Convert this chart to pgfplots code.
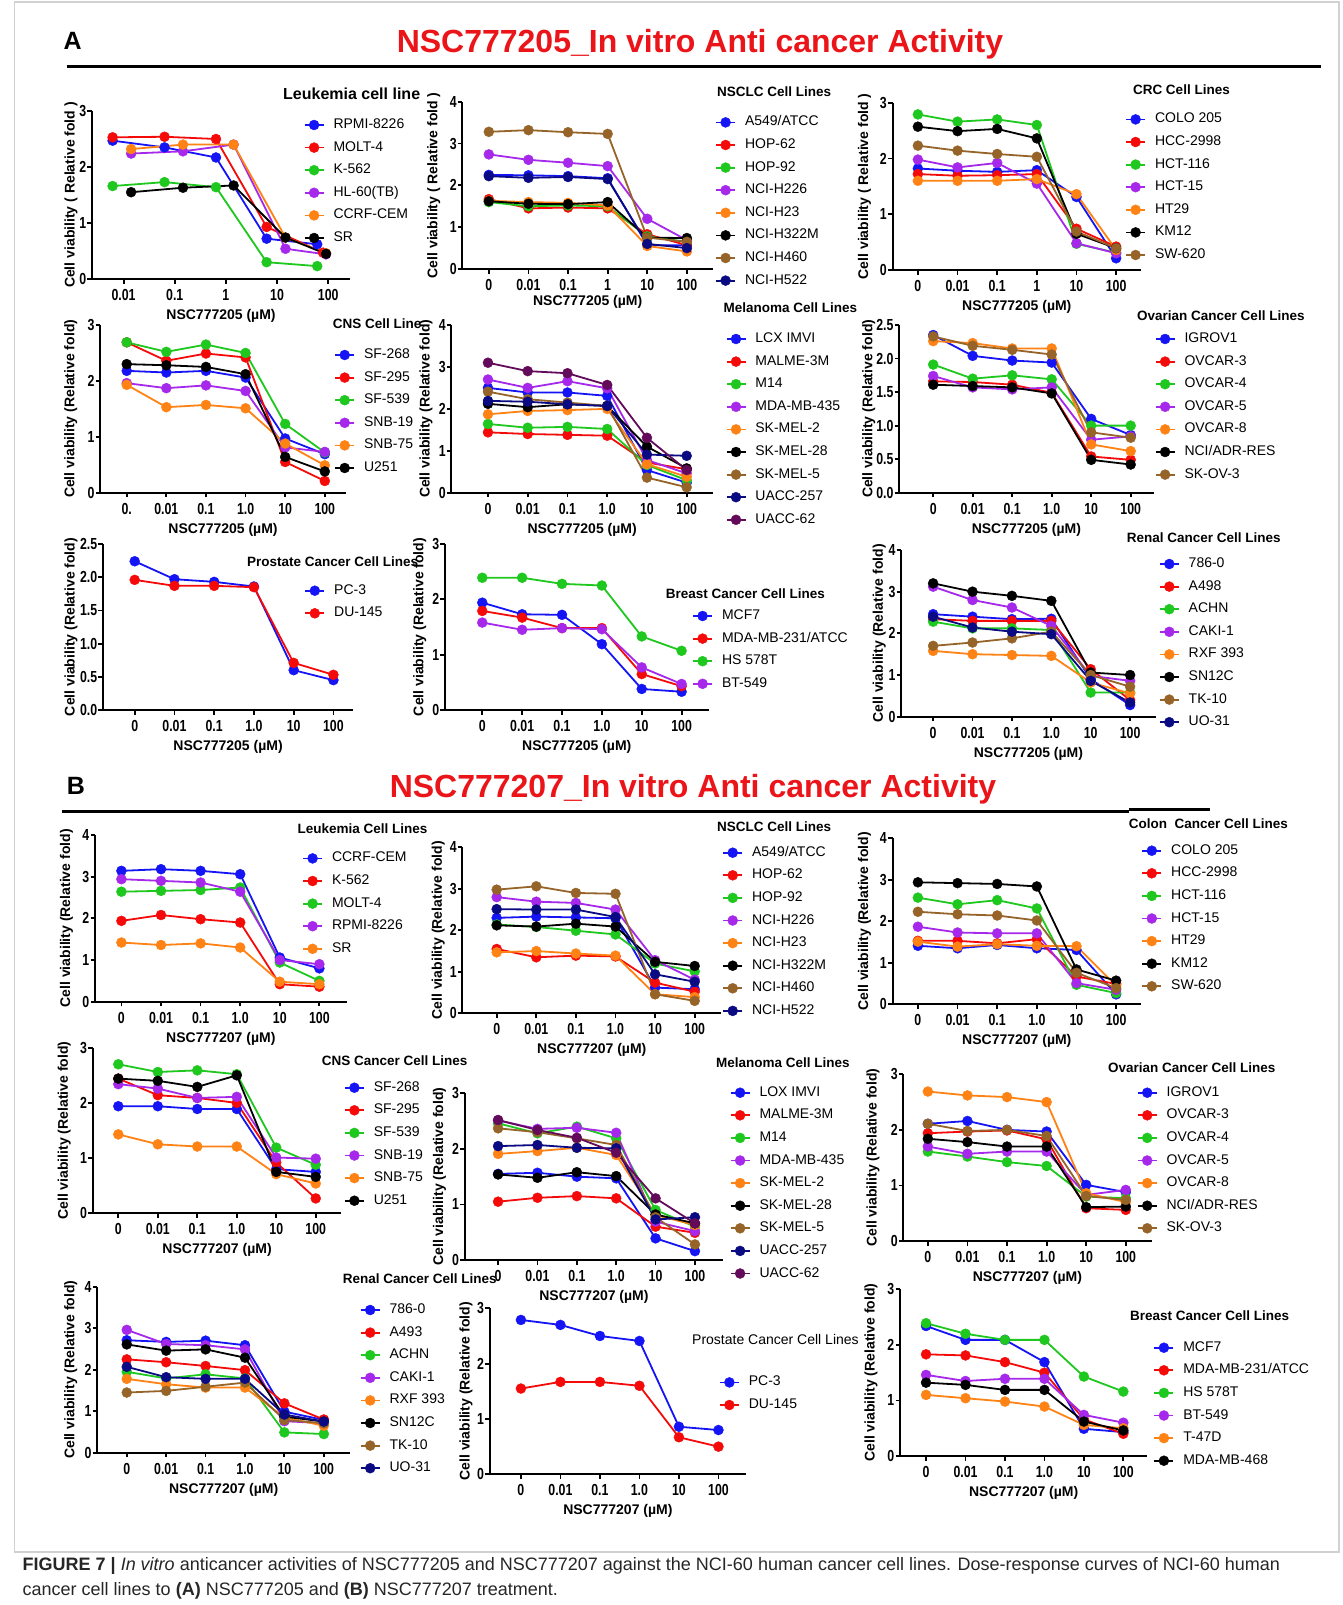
\documentclass[border=0pt]{standalone}
\usepackage{fontspec}
\setmainfont{Liberation Sans}
\newfontfamily\tickfamily[FakeStretch=0.77]{Liberation Sans}
\usepackage{pgfplots}
\pgfplotsset{compat=1.18}
\definecolor{pblue}{RGB}{20,20,245}
\definecolor{pred}{RGB}{245,10,10}
\definecolor{pgreen}{RGB}{30,200,30}
\definecolor{ppurple}{RGB}{165,40,235}
\definecolor{porange}{RGB}{255,130,20}
\definecolor{pblack}{RGB}{0,0,0}
\definecolor{pbrown}{RGB}{150,100,40}
\definecolor{pnavy}{RGB}{10,10,130}
\definecolor{pdpurple}{RGB}{100,10,90}
\definecolor{titlered}{RGB}{235,20,25}
\newcommand{\tfont}{\tickfamily\bfseries\fontsize{16}{17}\selectfont}
\newcommand{\lfont}{\bfseries\fontsize{14}{16}\selectfont}
\newcommand{\legfont}{\fontsize{14}{16}\selectfont}
\newcommand{\ltitfont}{\bfseries\fontsize{13.5}{16}\selectfont}
\pgfplotsset{
 prism/.style={
   scale only axis, clip=false, anchor=south west,
   axis x line*=bottom, axis y line*=left,
   axis line style={line width=2pt, black},
   tick style={line width=1.8pt, black},
   major tick length=4.5pt, tick align=outside,
   ymin=0, xtick={0,1,2,3,4,5},
   xticklabels={0,0.01,0.1,1.0,10,100},
   tick label style={font=\tfont, inner sep=1pt},
   xticklabel style={yshift=-4.5pt},
   /pgf/number format/assume math mode=true,
   xlabel style={at={(axis description cs:0.5,0)}, anchor=center, yshift=-37pt, font=\lfont},
   ylabel style={anchor=center, font=\lfont},
   title style={at={(axis description cs:0,0)}, anchor=west, font=\ltitfont, inner sep=0pt},
   legend style={at={(axis description cs:0,0)}, anchor=north west, draw=none, fill=none, inner sep=0pt, font=\legfont, row sep=7.6pt, column sep=9pt, nodes={inner sep=0pt, text height=11pt, text depth=4pt}},
   legend cell align=left,
   legend image code/.code={\draw[mark repeat=2,mark phase=2,##1] plot coordinates {(0pt,0pt) (9.5pt,0pt) (19pt,0pt)};},
 },
 s/.style={color=#1, mark=*, line width=1.8pt, mark size=5pt, mark options={solid, fill=#1, line width=0.4pt}},
}
\begin{document}
\begin{tikzpicture}
\useasboundingbox (0pt,0pt) rectangle (1342pt,-1605pt);
\fill[white] (0pt,0pt) rectangle (1342pt,-1605pt);
\draw[black!18, line width=1.2pt] (14.3pt,-2pt) rectangle (1339pt,-1552pt);
% headers
\node[font=\bfseries\fontsize{25}{28}\selectfont] at (72.7pt,-41pt) {A};
\node[font=\bfseries\fontsize{32}{36}\selectfont, text=titlered] at (700pt,-44pt) {NSC777205\_In vitro Anti cancer Activity};
\draw[line width=3pt] (66.5pt,-66.5pt) -- (1320.6pt,-66.5pt);
\node[font=\bfseries\fontsize{25}{28}\selectfont] at (75.8pt,-786pt) {B};
\node[font=\bfseries\fontsize{32}{36}\selectfont, text=titlered] at (693pt,-789pt) {NSC777207\_In vitro Anti cancer Activity};
\draw[line width=3pt] (62pt,-811pt) -- (1128.7pt,-811pt);
\draw[line width=3pt] (1128.7pt,-809.5pt) -- (1209.8pt,-809.5pt);
% caption
\node[anchor=west, inner sep=0pt, font=\fontsize{18}{21}\selectfont, text=black!85] at (22.5pt,-1566pt) {\textbf{FIGURE 7 |} \textit{In vitro} anticancer activities of NSC777205 and NSC777207 against the NCI-60 human cancer cell lines. Dose-response curves of NCI-60 human};
\node[anchor=west, inner sep=0pt, font=\fontsize{18}{21}\selectfont, text=black!85] at (22.5pt,-1591pt) {cancer cell lines to \textbf{(A)} NSC777205 and \textbf{(B)} NSC777207 treatment.};

% ===== A1 Leukemia =====
\begin{axis}[prism, at={(91.9pt,-279pt)}, width=258.3pt, height=168pt,
 xmin=-2.62, xmax=2.43, ymax=3, ytick={0,1,2,3}, xtick={-2,-1,0,1,2}, xticklabels={0.01,0.1,1,10,100},
 xlabel={NSC777205 (µM)}, ylabel={Cell viability ( Relative fold )},
 ylabel style={at={(axis description cs:-0.0813,0.5)}},
 title={Leukemia cell line}, title style={xshift=191.1pt, yshift=179pt, font=\bfseries\fontsize{16}{18}\selectfont},
 legend style={xshift=211.6pt, yshift=161.7pt}]
\addplot[s=pblue] coordinates {(-2.215,2.47)(-1.200,2.35)(-0.194,2.17)(0.796,0.72)(1.785,0.62)}; \addlegendentry{RPMI-8226}
\addplot[s=pred] coordinates {(-2.215,2.53)(-1.200,2.54)(-0.194,2.50)(0.796,0.93)(1.900,0.47)}; \addlegendentry{MOLT-4}
\addplot[s=pgreen] coordinates {(-2.215,1.66)(-1.200,1.73)(-0.194,1.64)(0.796,0.30)(1.785,0.23)}; \addlegendentry{K-562}
\addplot[s=ppurple] coordinates {(-1.853,2.24)(-0.839,2.28)(0.150,2.40)(1.165,0.54)(1.957,0.44)}; \addlegendentry{HL-60(TB)}
\addplot[s=porange] coordinates {(-1.853,2.32)(-0.839,2.40)(0.150,2.40)(1.165,0.74)(1.957,0.46)}; \addlegendentry{CCRF-CEM}
\addplot[s=pblack] coordinates {(-1.853,1.55)(-0.839,1.63)(0.150,1.67)(1.165,0.74)(1.957,0.45)}; \addlegendentry{SR}
\end{axis}

% ===== A2 NSCLC =====
\begin{axis}[prism, at={(462.4pt,-269pt)}, width=250.6pt, height=167.3pt,
 xmin=-0.667, xmax=5.66, ymax=4, ytick={0,1,2,3,4}, xticklabels={0,0.01,0.1,1,10,100},
 xlabel={NSC777205 (µM)}, xlabel style={yshift=4pt}, ylabel={Cell viability ( Relative fold )},
 ylabel style={at={(axis description cs:-0.1141,0.5)}},
 title={NSCLC Cell Lines}, title style={xshift=254.6pt, yshift=171.7pt},
 legend style={xshift=252.6pt, yshift=154.3pt}]
\addplot[s=pblue] coordinates {(0,2.25)(1,2.24)(2,2.22)(3,2.17)(4,0.57)(5,0.57)}; \addlegendentry{A549/ATCC}
\addplot[s=pred] coordinates {(0,1.67)(1,1.45)(2,1.47)(3,1.45)(4,0.83)(5,0.57)}; \addlegendentry{HOP-62}
\addplot[s=pgreen] coordinates {(0,1.60)(1,1.50)(2,1.52)(3,1.50)(4,0.78)(5,0.65)}; \addlegendentry{HOP-92}
\addplot[s=ppurple] coordinates {(0,2.74)(1,2.61)(2,2.54)(3,2.46)(4,1.20)(5,0.69)}; \addlegendentry{NCI-H226}
\addplot[s=porange] coordinates {(0,1.63)(1,1.60)(2,1.58)(3,1.52)(4,0.55)(5,0.42)}; \addlegendentry{NCI-H23}
\addplot[s=pblack] coordinates {(0,1.62)(1,1.56)(2,1.55)(3,1.60)(4,0.75)(5,0.74)}; \addlegendentry{NCI-H322M}
\addplot[s=pbrown] coordinates {(0,3.28)(1,3.32)(2,3.27)(3,3.23)(4,0.75)(5,0.65)}; \addlegendentry{NCI-H460}
\addplot[s=pnavy] coordinates {(0,2.22)(1,2.18)(2,2.20)(3,2.15)(4,0.60)(5,0.50)}; \addlegendentry{NCI-H522}
\end{axis}

% ===== A3 CRC =====
\begin{axis}[prism, at={(892.5pt,-270pt)}, width=248.6pt, height=167.3pt,
 xmin=-0.64, xmax=5.63, ymax=3, ytick={0,1,2,3}, xticklabels={0,0.01,0.1,1,10,100},
 xlabel={NSC777205 (µM)}, ylabel={Cell viability ( Relative fold )},
 ylabel style={at={(axis description cs:-0.1122,0.5)}},
 title={CRC Cell Lines}, title style={xshift=240.3pt, yshift=174pt},
 legend style={xshift=232.5pt, yshift=158.3pt}]
\addplot[s=pblue] coordinates {(0,1.82)(1,1.78)(2,1.76)(3,1.79)(4,1.31)(5,0.21)}; \addlegendentry{COLO 205}
\addplot[s=pred] coordinates {(0,1.72)(1,1.69)(2,1.70)(3,1.72)(4,0.74)(5,0.42)}; \addlegendentry{HCC-2998}
\addplot[s=pgreen] coordinates {(0,2.79)(1,2.66)(2,2.70)(3,2.60)(4,0.47)(5,0.31)}; \addlegendentry{HCT-116}
\addplot[s=ppurple] coordinates {(0,1.98)(1,1.84)(2,1.92)(3,1.55)(4,0.48)(5,0.30)}; \addlegendentry{HCT-15}
\addplot[s=porange] coordinates {(0,1.60)(1,1.60)(2,1.60)(3,1.63)(4,1.36)(5,0.36)}; \addlegendentry{HT29}
\addplot[s=pblack] coordinates {(0,2.57)(1,2.49)(2,2.53)(3,2.36)(4,0.65)(5,0.39)}; \addlegendentry{KM12}
\addplot[s=pbrown] coordinates {(0,2.23)(1,2.14)(2,2.08)(3,2.03)(4,0.69)(5,0.39)}; \addlegendentry{SW-620}
\end{axis}

% ===== A4 CNS =====
\begin{axis}[prism, at={(100.3pt,-492.7pt)}, width=245.5pt, height=167.7pt,
 xmin=-0.667, xmax=5.53, ymax=3, ytick={0,1,2,3}, xticklabels={0.,0.01,0.1,1.0,10,100},
 xlabel={NSC777205 (µM)}, ylabel={Cell viability (Relative fold)},
 ylabel style={at={(axis description cs:-0.1202,0.5)}},
 title={CNS Cell Line}, title style={xshift=232.3pt, yshift=162.7pt},
 legend style={xshift=233.8pt, yshift=145.4pt}]
\addplot[s=pblue] coordinates {(0,2.18)(1,2.15)(2,2.18)(3,2.06)(4,0.97)(5,0.69)}; \addlegendentry{SF-268}
\addplot[s=pred] coordinates {(0,2.69)(1,2.36)(2,2.49)(3,2.42)(4,0.55)(5,0.21)}; \addlegendentry{SF-295}
\addplot[s=pgreen] coordinates {(0,2.69)(1,2.52)(2,2.65)(3,2.50)(4,1.23)(5,0.72)}; \addlegendentry{SF-539}
\addplot[s=ppurple] coordinates {(0,1.96)(1,1.87)(2,1.92)(3,1.82)(4,0.81)(5,0.73)}; \addlegendentry{SNB-19}
\addplot[s=porange] coordinates {(0,1.93)(1,1.53)(2,1.57)(3,1.51)(4,0.88)(5,0.49)}; \addlegendentry{SNB-75}
\addplot[s=pblack] coordinates {(0,2.30)(1,2.28)(2,2.25)(3,2.12)(4,0.64)(5,0.38)}; \addlegendentry{U251}
\end{axis}

% ===== A5 Melanoma =====
\begin{axis}[prism, at={(451.4pt,-492.7pt)}, width=261.5pt, height=167.7pt,
 xmin=-0.92, xmax=5.66, ymax=4, ytick={0,1,2,3,4},
 xlabel={NSC777205 (µM)}, ylabel={Cell viability (Relative fold)},
 ylabel style={at={(axis description cs:-0.097,0.5)}},
 title={Melanoma Cell Lines}, title style={xshift=271.9pt, yshift=178.7pt},
 legend style={xshift=274pt, yshift=161.4pt}]
\addplot[s=pblue] coordinates {(0,2.50)(1,2.39)(2,2.39)(3,2.31)(4,0.54)(5,0.24)}; \addlegendentry{LCX IMVI}
\addplot[s=pred] coordinates {(0,1.44)(1,1.40)(2,1.38)(3,1.36)(4,0.72)(5,0.56)}; \addlegendentry{MALME-3M}
\addplot[s=pgreen] coordinates {(0,1.64)(1,1.55)(2,1.57)(3,1.52)(4,0.66)(5,0.30)}; \addlegendentry{M14}
\addplot[s=ppurple] coordinates {(0,2.70)(1,2.50)(2,2.66)(3,2.49)(4,0.78)(5,0.46)}; \addlegendentry{MDA-MB-435}
\addplot[s=porange] coordinates {(0,1.87)(1,1.95)(2,1.97)(3,2.00)(4,0.68)(5,0.38)}; \addlegendentry{SK-MEL-2}
\addplot[s=pblack] coordinates {(0,2.12)(1,2.04)(2,2.11)(3,2.07)(4,1.10)(5,0.58)}; \addlegendentry{SK-MEL-28}
\addplot[s=pbrown] coordinates {(0,2.41)(1,2.23)(2,2.15)(3,2.07)(4,0.36)(5,0.13)}; \addlegendentry{SK-MEL-5}
\addplot[s=pnavy] coordinates {(0,2.19)(1,2.17)(2,2.11)(3,2.07)(4,0.91)(5,0.88)}; \addlegendentry{UACC-257}
\addplot[s=pdpurple] coordinates {(0,3.10)(1,2.90)(2,2.85)(3,2.57)(4,1.31)(5,0.54)}; \addlegendentry{UACC-62}
\end{axis}

% ===== A6 Ovarian =====
\begin{axis}[prism, at={(899.1pt,-492.7pt)}, width=254.5pt, height=167.7pt,
 xmin=-0.863, xmax=5.58, ymax=2.5, ytick={0,0.5,1,1.5,2,2.5}, yticklabels={0.0,0.5,1.0,1.5,2.0,2.5},
 xlabel={NSC777205 (µM)}, ylabel={Cell viability (Relative fold)},
 ylabel style={at={(axis description cs:-0.119,0.5)}},
 title={Ovarian Cancer Cell Lines}, title style={xshift=237.9pt, yshift=171pt},
 legend style={xshift=255.4pt, yshift=161.4pt}]
\addplot[s=pblue] coordinates {(0,2.35)(1,2.04)(2,1.97)(3,1.94)(4,1.10)(5,0.86)}; \addlegendentry{IGROV1}
\addplot[s=pred] coordinates {(0,1.66)(1,1.65)(2,1.61)(3,1.49)(4,0.54)(5,0.49)}; \addlegendentry{OVCAR-3}
\addplot[s=pgreen] coordinates {(0,1.91)(1,1.70)(2,1.75)(3,1.69)(4,1.00)(5,1.00)}; \addlegendentry{OVCAR-4}
\addplot[s=ppurple] coordinates {(0,1.74)(1,1.57)(2,1.54)(3,1.57)(4,0.79)(5,0.84)}; \addlegendentry{OVCAR-5}
\addplot[s=porange] coordinates {(0,2.26)(1,2.23)(2,2.15)(3,2.15)(4,0.72)(5,0.62)}; \addlegendentry{OVCAR-8}
\addplot[s=pblack] coordinates {(0,1.61)(1,1.59)(2,1.57)(3,1.48)(4,0.49)(5,0.42)}; \addlegendentry{NCI/ADR-RES}
\addplot[s=pbrown] coordinates {(0,2.33)(1,2.19)(2,2.13)(3,2.06)(4,0.90)(5,0.82)}; \addlegendentry{SK-OV-3}
\end{axis}

% ===== A7 Prostate =====
\begin{axis}[prism, at={(102.9pt,-710pt)}, width=250.4pt, height=166pt,
 xmin=-0.8, xmax=5.5, ymax=2.5, ytick={0,0.5,1,1.5,2,2.5}, yticklabels={0.0,0.5,1.0,1.5,2.0,2.5},
 xlabel={NSC777205 (µM)}, ylabel={Cell viability (Relative fold)},
 ylabel style={at={(axis description cs:-0.1278,0.5)}},
 title={Prostate Cancer Cell Lines}, title style={xshift=143.9pt, yshift=142.7pt},
 legend style={xshift=201.3pt, yshift=127pt}]
\addplot[s=pblue] coordinates {(0,2.24)(1,1.97)(2,1.93)(3,1.86)(4,0.60)(5,0.45)}; \addlegendentry{PC-3}
\addplot[s=pred] coordinates {(0,1.96)(1,1.87)(2,1.87)(3,1.85)(4,0.71)(5,0.53)}; \addlegendentry{DU-145}
\end{axis}

% ===== A8 Breast =====
\begin{axis}[prism, at={(444.8pt,-710pt)}, width=263.9pt, height=166pt,
 xmin=-0.94, xmax=5.68, ymax=3, ytick={0,1,2,3},
 xlabel={NSC777205 (µM)}, ylabel={Cell viability (Relative fold)},
 ylabel style={at={(axis description cs:-0.095,0.5)}},
 title={Breast Cancer Cell Lines}, title style={xshift=220.9pt, yshift=110pt},
 legend style={xshift=247.2pt, yshift=101.7pt}]
\addplot[s=pblue] coordinates {(0,1.94)(1,1.73)(2,1.72)(3,1.19)(4,0.38)(5,0.33)}; \addlegendentry{MCF7}
\addplot[s=pred] coordinates {(0,1.79)(1,1.67)(2,1.48)(3,1.48)(4,0.65)(5,0.43)}; \addlegendentry{MDA-MB-231/ATCC}
\addplot[s=pgreen] coordinates {(0,2.39)(1,2.39)(2,2.28)(3,2.25)(4,1.33)(5,1.07)}; \addlegendentry{HS 578T}
\addplot[s=ppurple] coordinates {(0,1.58)(1,1.45)(2,1.48)(3,1.46)(4,0.77)(5,0.47)}; \addlegendentry{BT-549}
\end{axis}

% ===== A9 Renal =====
\begin{axis}[prism, at={(901.2pt,-716.7pt)}, width=254.5pt, height=166.7pt,
 xmin=-0.81, xmax=5.65, ymax=4, ytick={0,1,2,3,4},
 xlabel={NSC777205 (µM)}, ylabel={Cell viability (Relative fold)},
 ylabel style={at={(axis description cs:-0.0864,0.5)}},
 title={Renal Cancer Cell Lines}, title style={xshift=225.4pt, yshift=172.7pt},
 legend style={xshift=257.5pt, yshift=160.4pt}]
\addplot[s=pblue] coordinates {(0,2.46)(1,2.40)(2,2.34)(3,2.35)(4,0.90)(5,0.28)}; \addlegendentry{786-0}
\addplot[s=pred] coordinates {(0,2.34)(1,2.30)(2,2.30)(3,2.30)(4,1.14)(5,0.40)}; \addlegendentry{A498}
\addplot[s=pgreen] coordinates {(0,2.28)(1,2.12)(2,2.12)(3,2.08)(4,0.58)(5,0.58)}; \addlegendentry{ACHN}
\addplot[s=ppurple] coordinates {(0,3.12)(1,2.80)(2,2.62)(3,2.18)(4,0.98)(5,0.86)}; \addlegendentry{CAKI-1}
\addplot[s=porange] coordinates {(0,1.58)(1,1.50)(2,1.48)(3,1.46)(4,0.82)(5,0.56)}; \addlegendentry{RXF 393}
\addplot[s=pblack] coordinates {(0,3.20)(1,3.00)(2,2.90)(3,2.78)(4,1.06)(5,1.00)}; \addlegendentry{SN12C}
\addplot[s=pbrown] coordinates {(0,1.70)(1,1.78)(2,1.88)(3,2.04)(4,1.00)(5,0.72)}; \addlegendentry{TK-10}
\addplot[s=pnavy] coordinates {(0,2.40)(1,2.14)(2,2.04)(3,1.98)(4,0.86)(5,0.34)}; \addlegendentry{UO-31}
\end{axis}

% ===== B1 Leukemia =====
\begin{axis}[prism, at={(95pt,-1001.7pt)}, width=251.7pt, height=166.7pt,
 xmin=-0.667, xmax=5.69, ymax=4, ytick={0,1,2,3,4},
 xlabel={NSC777207 (µM)}, ylabel={Cell viability (Relative fold)},
 ylabel style={at={(axis description cs:-0.1136,0.5)}},
 title={Leukemia Cell Lines}, title style={xshift=202.4pt, yshift=167.4pt},
 legend style={xshift=207pt, yshift=151pt}]
\addplot[s=pblue] coordinates {(0,3.14)(1,3.18)(2,3.14)(3,3.06)(4,1.06)(5,0.80)}; \addlegendentry{CCRF-CEM}
\addplot[s=pred] coordinates {(0,1.94)(1,2.08)(2,1.98)(3,1.90)(4,0.42)(5,0.36)}; \addlegendentry{K-562}
\addplot[s=pgreen] coordinates {(0,2.64)(1,2.66)(2,2.68)(3,2.74)(4,0.94)(5,0.50)}; \addlegendentry{MOLT-4}
\addplot[s=ppurple] coordinates {(0,2.94)(1,2.90)(2,2.86)(3,2.64)(4,1.00)(5,0.90)}; \addlegendentry{RPMI-8226}
\addplot[s=porange] coordinates {(0,1.42)(1,1.36)(2,1.40)(3,1.30)(4,0.48)(5,0.42)}; \addlegendentry{SR}
\end{axis}

% ===== B2 NSCLC =====
\begin{axis}[prism, at={(462.4pt,-1013.3pt)}, width=258.8pt, height=166pt,
 xmin=-0.866, xmax=5.67, ymax=4, ytick={0,1,2,3,4},
 xlabel={NSC777207 (µM)}, ylabel={Cell viability (Relative fold)},
 ylabel style={at={(axis description cs:-0.0935,0.5)}},
 title={NSCLC Cell Lines}, title style={xshift=254.6pt, yshift=180.6pt},
 legend style={xshift=259.7pt, yshift=168.3pt}]
\addplot[s=pblue] coordinates {(0,2.30)(1,2.33)(2,2.31)(3,2.29)(4,0.62)(5,0.58)}; \addlegendentry{A549/ATCC}
\addplot[s=pred] coordinates {(0,1.55)(1,1.35)(2,1.39)(3,1.37)(4,0.74)(5,0.52)}; \addlegendentry{HOP-62}
\addplot[s=pgreen] coordinates {(0,2.14)(1,2.08)(2,1.99)(3,1.90)(4,1.20)(5,1.01)}; \addlegendentry{HOP-92}
\addplot[s=ppurple] coordinates {(0,2.80)(1,2.69)(2,2.66)(3,2.50)(4,1.28)(5,0.81)}; \addlegendentry{NCI-H226}
\addplot[s=porange] coordinates {(0,1.47)(1,1.50)(2,1.44)(3,1.39)(4,0.46)(5,0.39)}; \addlegendentry{NCI-H23}
\addplot[s=pblack] coordinates {(0,2.12)(1,2.09)(2,2.16)(3,2.09)(4,1.24)(5,1.14)}; \addlegendentry{NCI-H322M}
\addplot[s=pbrown] coordinates {(0,2.98)(1,3.06)(2,2.90)(3,2.88)(4,0.46)(5,0.30)}; \addlegendentry{NCI-H460}
\addplot[s=pnavy] coordinates {(0,2.51)(1,2.50)(2,2.50)(3,2.32)(4,0.94)(5,0.76)}; \addlegendentry{NCI-H522}
\end{axis}

% ===== B3 Colon =====
\begin{axis}[prism, at={(892.5pt,-1004.3pt)}, width=248.6pt, height=166pt,
 xmin=-0.64, xmax=5.63, ymax=4, ytick={0,1,2,3,4},
 xlabel={NSC777207 (µM)}, ylabel={Cell viability (Relative fold)},
 ylabel style={at={(axis description cs:-0.1122,0.5)}},
 title={Colon\ \ Cancer Cell Lines}, title style={xshift=236.2pt, yshift=175pt},
 legend style={xshift=248.7pt, yshift=161.3pt}]
\addplot[s=pblue] coordinates {(0,1.41)(1,1.35)(2,1.43)(3,1.35)(4,1.31)(5,0.24)}; \addlegendentry{COLO 205}
\addplot[s=pred] coordinates {(0,1.53)(1,1.53)(2,1.47)(3,1.57)(4,0.67)(5,0.49)}; \addlegendentry{HCC-2998}
\addplot[s=pgreen] coordinates {(0,2.57)(1,2.41)(2,2.51)(3,2.31)(4,0.47)(5,0.27)}; \addlegendentry{HCT-116}
\addplot[s=ppurple] coordinates {(0,1.87)(1,1.73)(2,1.71)(3,1.71)(4,0.51)(5,0.35)}; \addlegendentry{HCT-15}
\addplot[s=porange] coordinates {(0,1.51)(1,1.39)(2,1.45)(3,1.41)(4,1.40)(5,0.45)}; \addlegendentry{HT29}
\addplot[s=pblack] coordinates {(0,2.94)(1,2.92)(2,2.90)(3,2.84)(4,0.84)(5,0.57)}; \addlegendentry{KM12}
\addplot[s=pbrown] coordinates {(0,2.23)(1,2.17)(2,2.14)(3,2.02)(4,0.76)(5,0.39)}; \addlegendentry{SW-620}
\end{axis}

% ===== B4 CNS =====
\begin{axis}[prism, at={(92.8pt,-1213.3pt)}, width=248.6pt, height=165.6pt,
 xmin=-0.646, xmax=5.65, ymax=3, ytick={0,1,2,3},
 xlabel={NSC777207 (µM)}, ylabel={Cell viability (Relative fold)},
 ylabel style={at={(axis description cs:-0.115,0.5)}},
 title={CNS Cancer Cell Lines}, title style={xshift=228.8pt, yshift=146.6pt},
 legend style={xshift=251pt, yshift=133.3pt}]
\addplot[s=pblue] coordinates {(0,1.94)(1,1.94)(2,1.89)(3,1.89)(4,0.80)(5,0.75)}; \addlegendentry{SF-268}
\addplot[s=pred] coordinates {(0,2.44)(1,2.14)(2,2.09)(3,2.00)(4,0.92)(5,0.27)}; \addlegendentry{SF-295}
\addplot[s=pgreen] coordinates {(0,2.70)(1,2.56)(2,2.59)(3,2.52)(4,1.19)(5,0.88)}; \addlegendentry{SF-539}
\addplot[s=ppurple] coordinates {(0,2.34)(1,2.26)(2,2.09)(3,2.11)(4,1.01)(5,0.99)}; \addlegendentry{SNB-19}
\addplot[s=porange] coordinates {(0,1.43)(1,1.25)(2,1.21)(3,1.21)(4,0.71)(5,0.54)}; \addlegendentry{SNB-75}
\addplot[s=pblack] coordinates {(0,2.44)(1,2.40)(2,2.29)(3,2.50)(4,0.75)(5,0.66)}; \addlegendentry{U251}
\end{axis}

% ===== B5 Melanoma =====
\begin{axis}[prism, at={(464.6pt,-1260pt)}, width=258.7pt, height=166.7pt,
 xmin=-0.85, xmax=5.72, ymax=3, ytick={0,1,2,3},
 xlabel={NSC777207 (µM)}, ylabel={Cell viability (Relative fold)},
 ylabel style={at={(axis description cs:-0.097,0.5)}},
 title={Melanoma Cell Lines}, title style={xshift=251.2pt, yshift=191.7pt},
 legend style={xshift=264.9pt, yshift=175pt}]
\addplot[s=pblue] coordinates {(0,1.55)(1,1.57)(2,1.50)(3,1.47)(4,0.39)(5,0.16)}; \addlegendentry{LOX IMVI}
\addplot[s=pred] coordinates {(0,1.05)(1,1.12)(2,1.15)(3,1.11)(4,0.60)(5,0.49)}; \addlegendentry{MALME-3M}
\addplot[s=pgreen] coordinates {(0,2.46)(1,2.28)(2,2.40)(3,2.19)(4,0.90)(5,0.60)}; \addlegendentry{M14}
\addplot[s=ppurple] coordinates {(0,2.51)(1,2.36)(2,2.38)(3,2.29)(4,0.69)(5,0.52)}; \addlegendentry{MDA-MB-435}
\addplot[s=porange] coordinates {(0,1.91)(1,1.96)(2,2.02)(3,1.89)(4,0.81)(5,0.63)}; \addlegendentry{SK-MEL-2}
\addplot[s=pblack] coordinates {(0,1.54)(1,1.48)(2,1.58)(3,1.51)(4,0.82)(5,0.66)}; \addlegendentry{SK-MEL-28}
\addplot[s=pbrown] coordinates {(0,2.37)(1,2.30)(2,2.19)(3,2.07)(4,0.77)(5,0.28)}; \addlegendentry{SK-MEL-5}
\addplot[s=pnavy] coordinates {(0,2.05)(1,2.07)(2,2.02)(3,2.01)(4,0.73)(5,0.77)}; \addlegendentry{UACC-257}
\addplot[s=pdpurple] coordinates {(0,2.52)(1,2.34)(2,2.20)(3,1.93)(4,1.11)(5,0.66)}; \addlegendentry{UACC-62}
\end{axis}

% ===== B6 Ovarian =====
\begin{axis}[prism, at={(903.3pt,-1241pt)}, width=248.2pt, height=166.7pt,
 xmin=-0.62, xmax=5.65, ymax=3, ytick={0,1,2,3},
 xlabel={NSC777207 (µM)}, ylabel={Cell viability (Relative fold)},
 ylabel style={at={(axis description cs:-0.122,0.5)}},
 title={Ovarian Cancer Cell Lines}, title style={xshift=204.6pt, yshift=167.7pt},
 legend style={xshift=233.3pt, yshift=156pt}]
\addplot[s=pblue] coordinates {(0,2.11)(1,2.16)(2,2.00)(3,1.97)(4,1.01)(5,0.88)}; \addlegendentry{IGROV1}
\addplot[s=pred] coordinates {(0,1.94)(1,1.97)(2,1.99)(3,1.83)(4,0.59)(5,0.56)}; \addlegendentry{OVCAR-3}
\addplot[s=pgreen] coordinates {(0,1.61)(1,1.52)(2,1.42)(3,1.35)(4,0.80)(5,0.77)}; \addlegendentry{OVCAR-4}
\addplot[s=ppurple] coordinates {(0,1.70)(1,1.57)(2,1.61)(3,1.61)(4,0.83)(5,0.92)}; \addlegendentry{OVCAR-5}
\addplot[s=porange] coordinates {(0,2.69)(1,2.62)(2,2.59)(3,2.50)(4,0.86)(5,0.70)}; \addlegendentry{OVCAR-8}
\addplot[s=pblack] coordinates {(0,1.84)(1,1.78)(2,1.70)(3,1.70)(4,0.61)(5,0.62)}; \addlegendentry{NCI/ADR-RES}
\addplot[s=pbrown] coordinates {(0,2.11)(1,1.98)(2,2.00)(3,1.89)(4,0.81)(5,0.74)}; \addlegendentry{SK-OV-3}
\end{axis}

% ===== B7 Renal =====
\begin{axis}[prism, at={(97.2pt,-1452.7pt)}, width=253pt, height=166pt,
 xmin=-0.75, xmax=5.67, ymax=4, ytick={0,1,2,3,4},
 xlabel={NSC777207 (µM)}, ylabel={Cell viability (Relative fold)},
 ylabel style={at={(axis description cs:-0.1043,0.5)}},
 title={Renal Cancer Cell Lines}, title style={xshift=245.5pt, yshift=167.7pt},
 legend style={xshift=262.4pt, yshift=150.4pt}]
\addplot[s=pblue] coordinates {(0,2.71)(1,2.67)(2,2.70)(3,2.59)(4,0.99)(5,0.79)}; \addlegendentry{786-0}
\addplot[s=pred] coordinates {(0,2.25)(1,2.18)(2,2.09)(3,1.99)(4,1.19)(5,0.80)}; \addlegendentry{A493}
\addplot[s=pgreen] coordinates {(0,1.95)(1,1.79)(2,1.89)(3,1.79)(4,0.49)(5,0.45)}; \addlegendentry{ACHN}
\addplot[s=ppurple] coordinates {(0,2.96)(1,2.62)(2,2.59)(3,2.49)(4,0.76)(5,0.71)}; \addlegendentry{CAKI-1}
\addplot[s=porange] coordinates {(0,1.78)(1,1.65)(2,1.57)(3,1.57)(4,0.85)(5,0.65)}; \addlegendentry{RXF 393}
\addplot[s=pblack] coordinates {(0,2.61)(1,2.46)(2,2.49)(3,2.29)(4,0.87)(5,0.75)}; \addlegendentry{SN12C}
\addplot[s=pbrown] coordinates {(0,1.45)(1,1.49)(2,1.59)(3,1.69)(4,0.79)(5,0.71)}; \addlegendentry{TK-10}
\addplot[s=pnavy] coordinates {(0,2.07)(1,1.82)(2,1.78)(3,1.78)(4,0.92)(5,0.75)}; \addlegendentry{UO-31}
\end{axis}

% ===== B8 Prostate =====
\begin{axis}[prism, at={(489.7pt,-1474.3pt)}, width=256.4pt, height=166pt,
 xmin=-0.79, xmax=5.70, ymax=3, ytick={0,1,2,3},
 xlabel={NSC777207 (µM)}, ylabel={Cell viability (Relative fold)},
 ylabel style={at={(axis description cs:-0.0928,0.5)}},
 title={Prostate Cancer Cell Lines}, title style={xshift=202.3pt, yshift=129.3pt, font=\fontsize{14}{16}\selectfont},
 legend style={xshift=229.1pt, yshift=99.6pt}]
\addplot[s=pblue] coordinates {(0,2.79)(1,2.70)(2,2.50)(3,2.41)(4,0.86)(5,0.80)}; \addlegendentry{PC-3}
\addplot[s=pred] coordinates {(0,1.55)(1,1.67)(2,1.67)(3,1.60)(4,0.67)(5,0.50)}; \addlegendentry{DU-145}
\end{axis}

% ===== B9 Breast =====
\begin{axis}[prism, at={(900pt,-1456pt)}, width=247.4pt, height=166.7pt,
 xmin=-0.66, xmax=5.61, ymax=3, ytick={0,1,2,3},
 xlabel={NSC777207 (µM)}, ylabel={Cell viability (Relative fold)},
 ylabel style={at={(axis description cs:-0.1176,0.5)}},
 title={Breast Cancer Cell Lines}, title style={xshift=229.9pt, yshift=134.3pt},
 legend style={xshift=253.3pt, yshift=116pt}]
\addplot[s=pblue] coordinates {(0,2.34)(1,2.09)(2,2.09)(3,1.69)(4,0.49)(5,0.43)}; \addlegendentry{MCF7}
\addplot[s=pred] coordinates {(0,1.83)(1,1.81)(2,1.69)(3,1.50)(4,0.66)(5,0.40)}; \addlegendentry{MDA-MB-231/ATCC}
\addplot[s=pgreen] coordinates {(0,2.39)(1,2.20)(2,2.09)(3,2.09)(4,1.43)(5,1.16)}; \addlegendentry{HS 578T}
\addplot[s=ppurple] coordinates {(0,1.46)(1,1.35)(2,1.39)(3,1.39)(4,0.74)(5,0.60)}; \addlegendentry{BT-549}
\addplot[s=porange] coordinates {(0,1.10)(1,1.04)(2,0.98)(3,0.89)(4,0.56)(5,0.50)}; \addlegendentry{T-47D}
\addplot[s=pblack] coordinates {(0,1.32)(1,1.28)(2,1.19)(3,1.19)(4,0.62)(5,0.46)}; \addlegendentry{MDA-MB-468}
\end{axis}
\end{tikzpicture}
\end{document}
